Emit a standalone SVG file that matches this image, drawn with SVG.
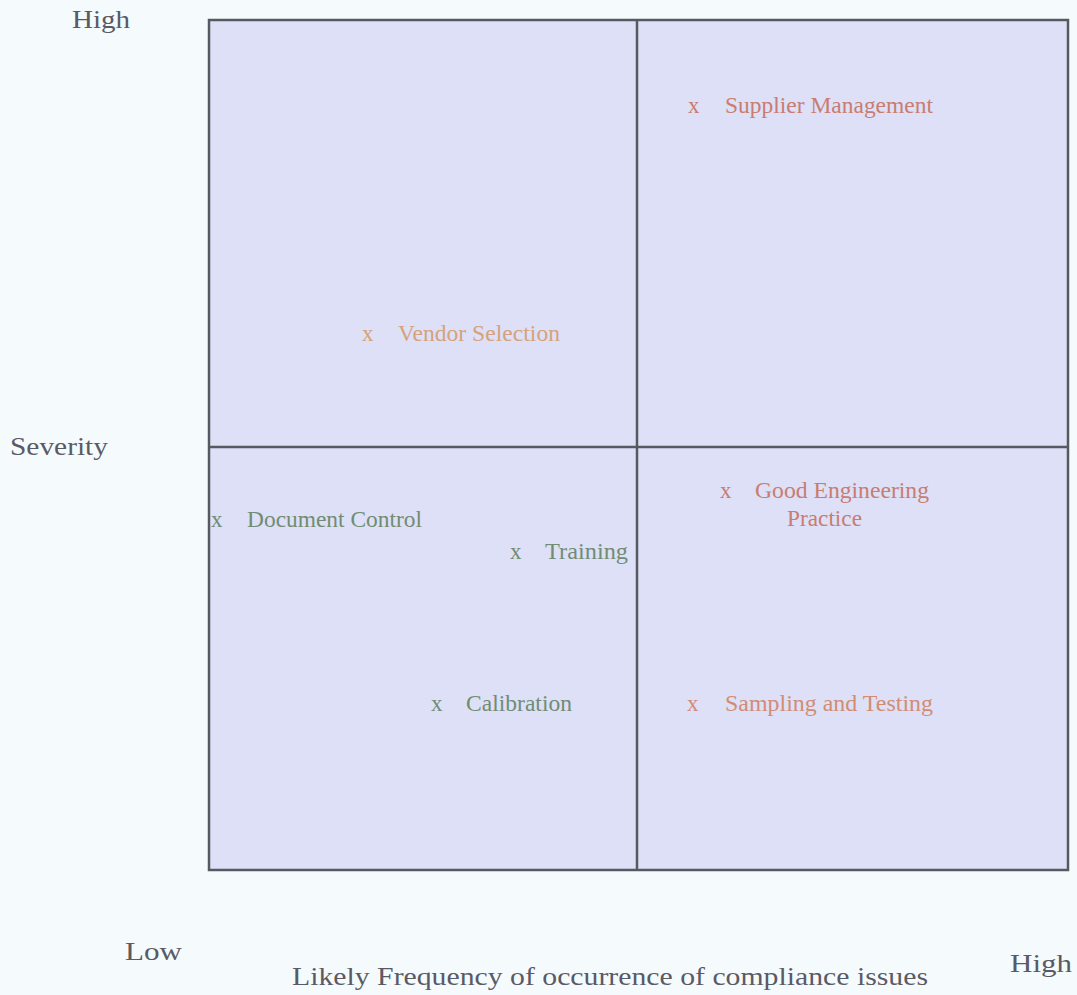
<svg xmlns="http://www.w3.org/2000/svg" width="1077" height="995" viewBox="0 0 1077 995">
  <style>
    text { font-family: "Liberation Serif", "Times New Roman", serif; }
    .axis { font-size: 25px; fill: #5a5a66; }
    .lbl { font-size: 23px; }
    .red { fill: #c97c70; }
    .tan { fill: #d6a27c; }
    .grn { fill: #718c74; }
    .org { fill: #d38c74; }
    .grid { stroke: #56595f; stroke-width: 2.5; fill: none; }
    .field { fill: #dde0f6; }
  </style>
  <rect x="0" y="0" width="1077" height="995" fill="#f5fbfc"/>

  <!-- quadrant frame -->
  <g id="matrix">
    <rect x="209" y="20" width="859" height="850" class="field"/>
    <rect x="209" y="20" width="859" height="850" class="grid"/>
    <line x1="637" y1="20" x2="637" y2="870" class="grid"/>
    <line x1="209" y1="447" x2="1068" y2="447" class="grid"/>
  </g>

  <!-- axis labels -->
  <g id="axes">
    <text class="axis" x="72" y="28" textLength="58" lengthAdjust="spacingAndGlyphs">High</text>
    <text class="axis" x="10" y="455" textLength="98" lengthAdjust="spacingAndGlyphs">Severity</text>
    <text class="axis" x="125" y="960" textLength="57" lengthAdjust="spacingAndGlyphs">Low</text>
    <text class="axis" x="292" y="985" textLength="636" lengthAdjust="spacingAndGlyphs">Likely Frequency of occurrence of compliance issues</text>
    <text class="axis" x="1010" y="972" textLength="62" lengthAdjust="spacingAndGlyphs">High</text>
  </g>

  <!-- plotted items -->
  <g id="supplier-management" class="lbl red">
    <text x="688" y="113">x</text>
    <text x="725" y="113" textLength="208" lengthAdjust="spacingAndGlyphs">Supplier Management</text>
  </g>
  <g id="vendor-selection" class="lbl tan">
    <text x="362" y="341">x</text>
    <text x="398" y="341" textLength="162" lengthAdjust="spacingAndGlyphs">Vendor Selection</text>
  </g>
  <g id="document-control" class="lbl grn">
    <text x="211" y="527">x</text>
    <text x="247" y="527" textLength="175" lengthAdjust="spacingAndGlyphs">Document Control</text>
  </g>
  <g id="training" class="lbl grn">
    <text x="510" y="559">x</text>
    <text x="545" y="559" textLength="83" lengthAdjust="spacingAndGlyphs">Training</text>
  </g>
  <g id="calibration" class="lbl grn">
    <text x="431" y="711">x</text>
    <text x="466" y="711" textLength="106" lengthAdjust="spacingAndGlyphs">Calibration</text>
  </g>
  <g id="good-engineering-practice" class="lbl red">
    <text x="720" y="498">x</text>
    <text x="755" y="498" textLength="174" lengthAdjust="spacingAndGlyphs">Good Engineering</text>
    <text x="787" y="526" textLength="75" lengthAdjust="spacingAndGlyphs">Practice</text>
  </g>
  <g id="sampling-and-testing" class="lbl org">
    <text x="687" y="711">x</text>
    <text x="725" y="711" textLength="208" lengthAdjust="spacingAndGlyphs">Sampling and Testing</text>
  </g>
</svg>
